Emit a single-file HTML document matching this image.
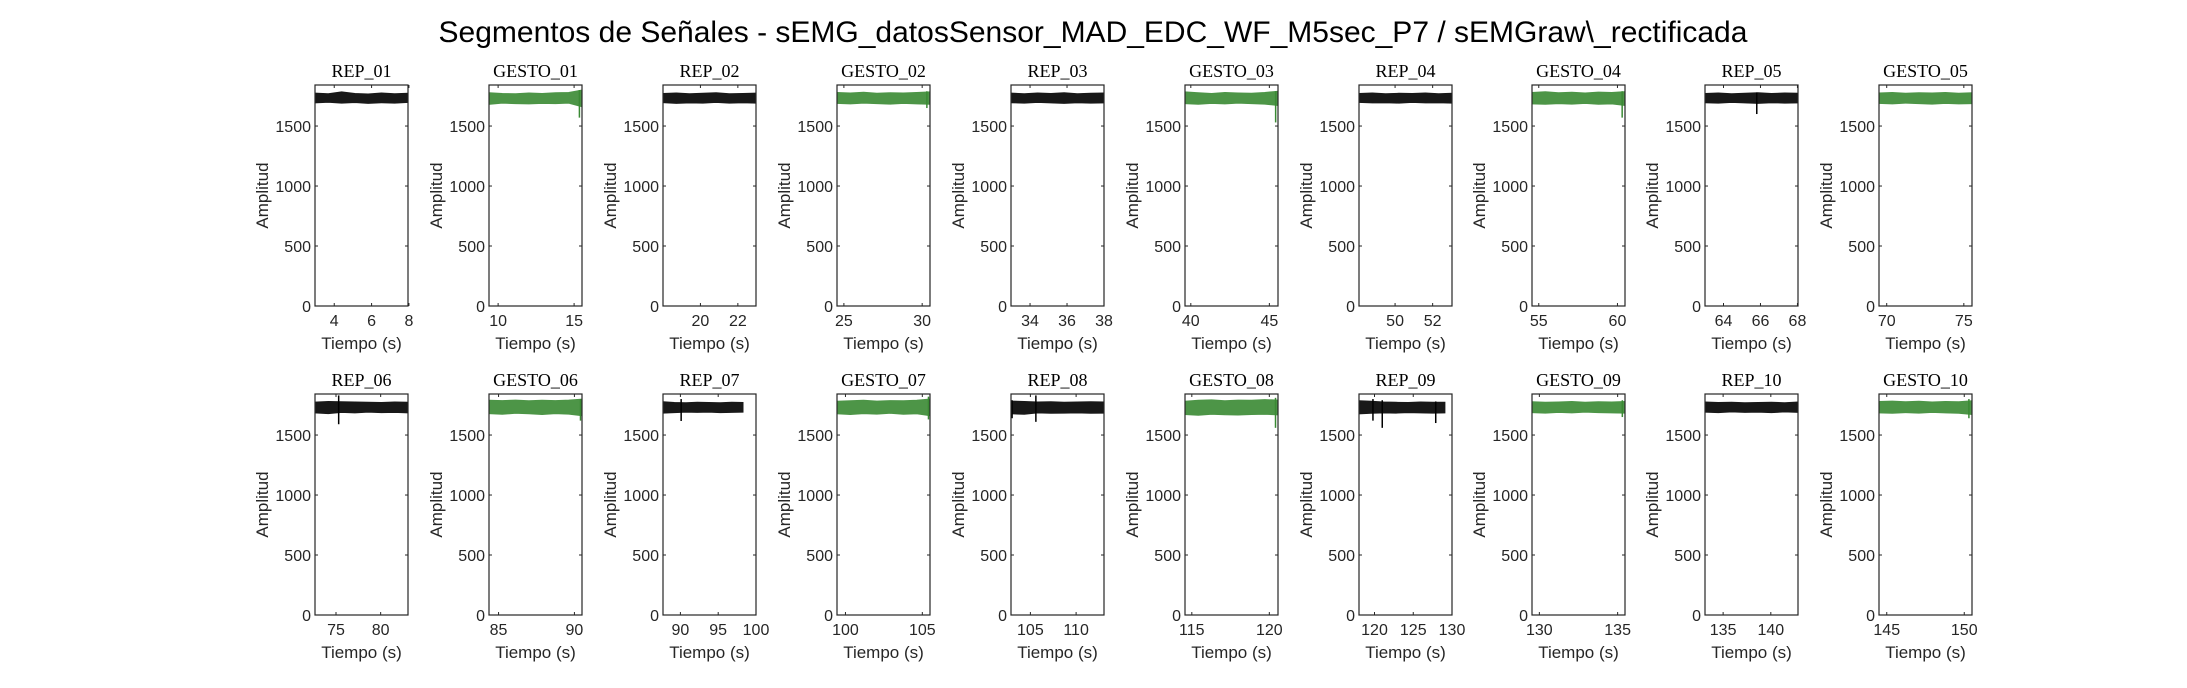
<!DOCTYPE html>
<html><head><meta charset="utf-8">
<style>
html,body{margin:0;padding:0;background:#fff;}
svg{display:block;font-family:"Liberation Sans",Arial,sans-serif;}
</style></head>
<body>
<svg id="fig" width="2187" height="688" viewBox="0 0 2187 688" xmlns="http://www.w3.org/2000/svg">
<rect width="2187" height="688" fill="#fff"/>
<text x="1093" y="42" text-anchor="middle" font-size="30" fill="#000">Segmentos de Señales - sEMG_datosSensor_MAD_EDC_WF_M5sec_P7 / sEMGraw\_rectificada</text>
<g id="plots"></g>
</svg>
<script>
// ---- data ----
const panelNames = ["REP_01","GESTO_01","REP_02","GESTO_02","REP_03","GESTO_03","REP_04","GESTO_04","REP_05","GESTO_05",
"REP_06","GESTO_06","REP_07","GESTO_07","REP_08","GESTO_08","REP_09","GESTO_09","REP_10","GESTO_10"];
const xMin = [2.97,9.4,18.0,24.56,32.97,39.63,48.08,54.57,63.0,69.5, 72.65,84.37,87.7,99.45,102.88,114.56,118.0,129.53,133.1,144.5];
const xMax = [7.95,15.52,22.97,30.5,38.0,45.55,53.03,60.48,68.03,75.53, 83.06,90.5,100.0,105.5,113.05,120.56,130.0,135.47,142.85,150.5];
const dataEnd = [7.95,15.52,22.97,30.5,38.0,45.55,53.03,60.48,68.03,75.53, 83.06,90.5,98.3,105.5,113.05,120.56,129.1,135.47,142.85,150.5];
const xTicks = [[4,6,8],[10,15],[20,22],[25,30],[34,36,38],[40,45],[50,52],[55,60],[64,66,68],[70,75],
[75,80],[85,90],[90,95,100],[100,105],[105,110],[115,120],[120,125,130],[130,135],[135,140],[145,150]];
const yTicks = [0,500,1000,1500];
const yMax = 1842;
// band envelopes (8 samples across each segment)
const bandHi = [
[1775,1770,1785,1772,1768,1776,1770,1774],[1778,1772,1770,1776,1772,1778,1780,1800],
[1772,1776,1770,1774,1778,1770,1772,1775],[1780,1776,1782,1774,1778,1776,1780,1785],
[1775,1770,1776,1772,1778,1770,1774,1776],[1785,1778,1772,1780,1776,1774,1780,1790],
[1772,1776,1770,1774,1772,1776,1770,1774],[1780,1786,1778,1782,1776,1784,1780,1788],
[1772,1776,1770,1774,1778,1772,1776,1774],[1776,1780,1774,1778,1776,1780,1774,1778],
[1775,1780,1778,1776,1774,1772,1776,1774],[1790,1788,1792,1786,1790,1788,1792,1800],
[1778,1772,1770,1774,1772,1770,1774,1772],[1782,1786,1790,1784,1788,1786,1790,1800],
[1784,1780,1776,1778,1774,1776,1778,1776],[1782,1790,1794,1786,1792,1790,1796,1792],
[1786,1782,1776,1774,1772,1776,1774,1774],[1778,1774,1776,1780,1774,1778,1776,1780],
[1776,1772,1774,1770,1772,1774,1770,1776],[1780,1784,1778,1782,1776,1780,1778,1786]];
const bandLo = [
[1692,1698,1690,1695,1688,1694,1690,1696],[1680,1690,1686,1684,1688,1686,1690,1660],
[1694,1688,1692,1690,1696,1690,1694,1690],[1688,1684,1690,1686,1682,1688,1684,1680],
[1694,1690,1696,1692,1688,1694,1690,1692],[1686,1680,1688,1684,1690,1686,1682,1670],
[1696,1692,1694,1690,1696,1692,1694,1690],[1684,1680,1686,1682,1688,1680,1684,1670],
[1694,1690,1696,1692,1688,1694,1690,1692],[1688,1684,1690,1686,1682,1688,1684,1686],
[1684,1678,1688,1684,1690,1686,1688,1684],[1678,1672,1680,1676,1670,1678,1674,1660],
[1682,1686,1690,1688,1690,1686,1688,1690],[1676,1670,1678,1674,1680,1672,1676,1660],
[1676,1672,1684,1680,1682,1684,1680,1682],[1670,1664,1672,1668,1666,1670,1672,1668],
[1676,1680,1684,1682,1686,1684,1682,1684],[1686,1682,1688,1684,1690,1686,1684,1682],
[1690,1686,1692,1688,1690,1686,1692,1688],[1684,1680,1686,1682,1688,1684,1680,1670]];
// spikes: [panel index, time, min, max]
const spikes = [[1,15.35,1570,1800],[3,30.3,1650,1790],[5,45.4,1530,1790],[7,60.3,1570,1790],[8,65.8,1600,1780],
[11,90.4,1620,1800],[10,75.3,1590,1830],[12,90.1,1617,1800],[13,105.4,1630,1820],[14,103.0,1640,1790],[14,105.6,1610,1830],
[15,120.4,1560,1810],[16,119.8,1620,1800],[16,121.0,1560,1790],[16,127.9,1600,1780],[17,135.3,1650,1790],[19,150.3,1640,1800]];

// ---- layout ----
const NS = "http://www.w3.org/2000/svg";
const panelLeft = [315,489,663,837,1011,1185,1359,1532,1705,1879];
const panelW = 93;
const rowTop = [85,394], rowBottom = [306,615];
const g = document.getElementById('plots');
function mk(tag, attrs, parent){const e=document.createElementNS(NS,tag);for(const k in attrs)e.setAttribute(k,attrs[k]);(parent||g).appendChild(e);return e;}

panelNames.forEach((name,i)=>{
  const row = i<10?0:1, col=i%10;
  const L=panelLeft[col], R=L+panelW, T=rowTop[row], B=rowBottom[row];
  const sx = v => L + (v-xMin[i])/(xMax[i]-xMin[i])*(R-L);
  const sy = v => B - v/yMax*(B-T);
  const green = name.startsWith("GESTO");
  const col1 = green ? "#3a8a34" : "#000";
  const pg = mk('g',{});
  
  
  const n = bandHi[i].length;
  const t0 = xMin[i], t1 = dataEnd[i];
  let pts=[];
  for(let k=0;k<n;k++){pts.push(sx(t0+(t1-t0)*k/(n-1)).toFixed(1)+","+sy(bandHi[i][k]).toFixed(1));}
  for(let k=n-1;k>=0;k--){pts.push(sx(t0+(t1-t0)*k/(n-1)).toFixed(1)+","+sy(bandLo[i][k]).toFixed(1));}
  const band = mk('polygon',{points:pts.join(" "),fill:col1,stroke:col1,'stroke-width':0.8,opacity:0.9},pg);
  
  
  spikes.filter(s=>s[0]===i).forEach(s=>{
    const ln = mk('line',{x1:sx(s[1]),x2:sx(s[1]),y1:sy(s[3]),y2:sy(s[2]),stroke:col1,'stroke-width':1.5},pg);
    
    
  });
  const box = mk('rect',{x:L,y:T,width:R-L,height:B-T,fill:'none',stroke:'#262626','stroke-width':1.2},pg);
  
  
  yTicks.forEach(v=>{
    const y=sy(v);
    mk('line',{x1:L,x2:L+3,y1:y,y2:y,stroke:'#262626','stroke-width':1},pg);
    mk('line',{x1:R,x2:R-3,y1:y,y2:y,stroke:'#262626','stroke-width':1},pg);
    const t=mk('text',{x:L-4,y:y+6,'text-anchor':'end','font-size':16,fill:'#262626'},pg);
    t.textContent=v;
    
    
  });
  xTicks[i].forEach(v=>{
    const x=sx(v);
    mk('line',{x1:x,x2:x,y1:B,y2:B-3,stroke:'#262626','stroke-width':1},pg);
    mk('line',{x1:x,x2:x,y1:T,y2:T+3,stroke:'#262626','stroke-width':1},pg);
    const t=mk('text',{x:x,y:B+20,'text-anchor':'middle','font-size':16,fill:'#262626'},pg);
    t.textContent=v;
    
    
  });
  const xl=mk('text',{x:(L+R)/2,y:B+43,'text-anchor':'middle','font-size':17,fill:'#262626'},pg);
  xl.textContent="Tiempo (s)";
  
  
  const yx=L-47, yc=(T+B)/2;
  const yl=mk('text',{x:yx,y:yc,'text-anchor':'middle','font-size':17,fill:'#262626',transform:`rotate(-90 ${yx} ${yc})`},pg);
  yl.textContent="Amplitud";
  
  
  const tt=mk('text',{x:(L+R)/2,y:T-8,'text-anchor':'middle','font-size':18,fill:'#000','font-family':'"Liberation Serif",serif'},pg);
  tt.textContent=name;
  
  
});
</script>
</body></html>
